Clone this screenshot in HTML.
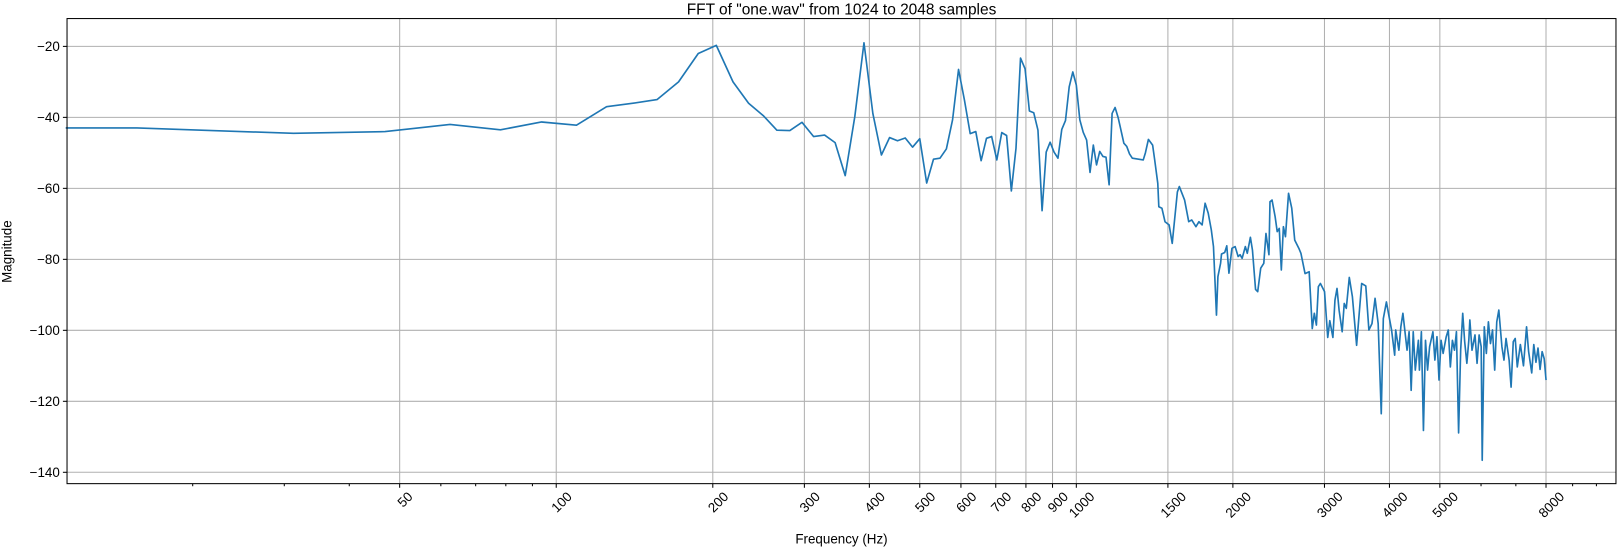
<!DOCTYPE html>
<html><head><meta charset="utf-8"><style>
html,body{margin:0;padding:0;background:#fff;}
svg{display:block;font-family:"Liberation Sans","DejaVu Sans",sans-serif;}
</style></head><body>
<svg id="chart" width="1617" height="548" viewBox="0 0 1568 531.4" preserveAspectRatio="none" xmlns="http://www.w3.org/2000/svg">
<text x="816" y="14" font-size="15" text-anchor="middle" fill="#000">FFT of "one.wav" from 1024 to 2048 samples</text>
<g id="grid"></g>
<g id="series"></g>
<rect x="65" y="18" width="1502" height="451" fill="none" stroke="#000" stroke-width="1"/>
<g id="axes"></g>
<text x="816" y="527" font-size="13" text-anchor="middle">Frequency (Hz)</text>
<text transform="translate(11,244) rotate(-90)" font-size="13" text-anchor="middle">Magnitude</text>
</svg>
<script>
const binHz = 15.625;
const lowBins = [1,2,3,4,5,6,7,8,9,10,11,12,13,14,15,16,17,18,19,20,21,22,23,24,25,26,27,28,29,30,31,32,33,34,35,36,37,38,39,40,41,42,43,44,45,46,47,48,49,50,51,52,53,54,55,56,57,58,59,60,61,62,63,64,65,66,67,68,69,70,71,72,73,74,75,76,77,78,79,80,81,82];
const lowMags = [-43,-44.5,-44,-42,-43.5,-41.3,-42.2,-37,-36,-35,-30,-22,-19.7,-30,-36,-39.5,-43.6,-43.7,-41.4,-45.4,-45,-47.1,-56.4,-39.8,-19,-38.9,-50.6,-45.7,-46.6,-45.8,-48.4,-46,-58.5,-51.8,-51.5,-48.9,-40.7,-26.5,-35.1,-44.6,-44,-52.2,-45.9,-45.4,-52,-44.3,-45.1,-60.7,-48.7,-23.3,-26.3,-38.2,-38.7,-43.6,-66.3,-49.8,-47,-49.8,-51.5,-43.4,-40.9,-31.4,-27.2,-30.9,-40.7,-44.2,-46.4,-55.5,-47.8,-53.4,-49.6,-51,-51.2,-59,-38.9,-37.2,-40,-43.6,-47.3,-48.2,-50.3,-51.5];
const firstFreq = 11.4;
const firstMag = -43;
const highFreqs = [1345,1358,1376,1402,1415,1434,1441,1461,1481,1508,1529,1564,1578,1615,1645,1667,1698,1721,1745,1769,1793,1818,1835,1860,1872,1894,1902,1929,1947,1965,1992,2020,2047,2065,2084,2113,2132,2161,2181,2211,2232,2262,2293,2315,2346,2357,2379,2411,2434,2456,2478,2501,2524,2559,2595,2630,2679,2703,2753,2803,2842,2868,2894,2920,2947,3001,3043,3072,3114,3143,3172,3200,3244,3274,3304,3349,3395,3458,3490,3537,3602,3652,3702,3754,3805,3858,3893,3946,3983,4038,4094,4113,4170,4208,4246,4285,4324,4364,4403,4444,4484,4546,4567,4608,4650,4693,4736,4779,4848,4892,4937,4982,5028,5073,5143,5190,5238,5285,5334,5382,5432,5482,5532,5582,5634,5685,5711,5764,5843,5896,5950,6005,6032,6088,6143,6200,6256,6314,6373,6432,6491,6580,6640,6701,6794,6855,6919,6981,7045,7141,7240,7339,7406,7508,7577,7650,7721,7791,7862,7935,8000];
const highMags = [-52,-50,-46.2,-47.8,-52,-58.6,-65.2,-65.6,-69.4,-70.3,-75.5,-61,-59.5,-63.3,-69.4,-68.9,-70.8,-69.4,-70.3,-64.2,-67,-71.7,-76.4,-95.7,-84.9,-81.1,-78.5,-78.1,-76.2,-83.9,-76.9,-76.4,-79.2,-78.7,-79.7,-76.4,-78.3,-73.8,-77.4,-88.5,-89.1,-82.5,-81.1,-72.7,-78.7,-63.8,-63.3,-68,-72.2,-71.3,-83,-70.8,-73.6,-61.4,-65.6,-74.6,-76.9,-78.3,-84,-83.5,-99.5,-95.2,-98.5,-87.7,-86.8,-89.1,-102,-97.3,-102,-91.5,-88.2,-94.3,-100.4,-92.4,-93.8,-85.1,-90.5,-104.2,-97.1,-86.8,-87.5,-99.9,-98.1,-91,-98.1,-123.5,-96.7,-92,-95.2,-99.9,-107,-99.9,-105.6,-99,-95.2,-100.4,-105.6,-100.4,-116.9,-100.4,-111.2,-102.8,-111.2,-100.4,-128.2,-102.8,-111.2,-104.6,-100.4,-108.4,-101.8,-114,-102.8,-106.5,-101.8,-99.9,-110.3,-102.8,-105.6,-100.4,-128.9,-105.6,-95.2,-103.2,-109.3,-102.8,-97.1,-105.6,-101.3,-109.3,-101.3,-104.6,-136.6,-99,-106.5,-97.6,-103.7,-99.9,-111.2,-97.6,-94.3,-104.6,-108.4,-102.3,-108.4,-116,-103.2,-102.3,-110.3,-104,-110,-99,-106,-112,-104,-109,-105,-111,-106,-108,-114];
const yTicks = [-20,-40,-60,-80,-100,-120,-140];
const xMajor = [50,100,200,300,400,500,600,700,800,900,1000,1500,2000,3000,4000,5000,8000];
const xMinor = [20,30,40,60,70,80,90,6000,7000,9000,10000];

const PL=65, PR=1567, PT=18, PB=469;
const LMIN=1.0594, LMAX=4.0376;
const VTOP=-12.16, VBOT=-143.2;
function xs(f){return PL+(Math.log10(f)-LMIN)/(LMAX-LMIN)*(PR-PL);}
function ys(v){return PT+(VTOP-v)/(VTOP-VBOT)*(PB-PT);}
const NS="http://www.w3.org/2000/svg";
function mk(tag,attrs,parent){const e=document.createElementNS(NS,tag);for(const k in attrs)e.setAttribute(k,attrs[k]);parent.appendChild(e);return e;}
const grid=document.getElementById('grid'), axes=document.getElementById('axes'), series=document.getElementById('series');

yTicks.forEach(v=>{
  const y=ys(v);
  const g=mk('line',{x1:PL,x2:PR,y1:y,y2:y,stroke:'#b0b0b0','stroke-width':1},grid);
  
  
  const t=mk('line',{x1:PL-4,x2:PL,y1:y,y2:y,stroke:'#000'},axes);
  
  
  const tx=mk('text',{x:PL-7,y:y+4.5,'font-size':13,'text-anchor':'end'},axes);
  tx.textContent=String(v).replace('-','\u2212');
  
  
});
xMajor.forEach(f=>{
  const x=xs(f);
  const g=mk('line',{x1:x,x2:x,y1:PT,y2:PB,stroke:'#b0b0b0','stroke-width':1},grid);
  
  
  const t=mk('line',{x1:x,x2:x,y1:PB,y2:PB+4,stroke:'#000'},axes);
  
  
  const s=String(f), w=s.length*7.2;
  const px=x+w*0.354+2, py=476;
  const tx=mk('text',{x:px,y:py+9,'font-size':13,'text-anchor':'end',transform:'rotate(-45 '+px+' '+py+')'},axes);
  tx.textContent=s;
  
  
});
xMinor.forEach(f=>{
  const x=xs(f);
  if(x>PR)return;
  const t=mk('line',{x1:x,x2:x,y1:PB,y2:PB+2.5,stroke:'#000'},axes);
  
  
});

const pts=[[firstFreq,firstMag]];
lowBins.forEach((k,i)=>pts.push([k*binHz,lowMags[i]]));
highFreqs.forEach((f,i)=>pts.push([f,highMags[i]]));
const d=pts.map((p,i)=>(i?'L':'M')+xs(p[0]).toFixed(1)+' '+ys(p[1]).toFixed(1)).join(' ');
const line=mk('path',{d:d,fill:'none',stroke:'#1f77b4','stroke-width':1.6,'stroke-linejoin':'round'},series);


</script>
</body></html>
